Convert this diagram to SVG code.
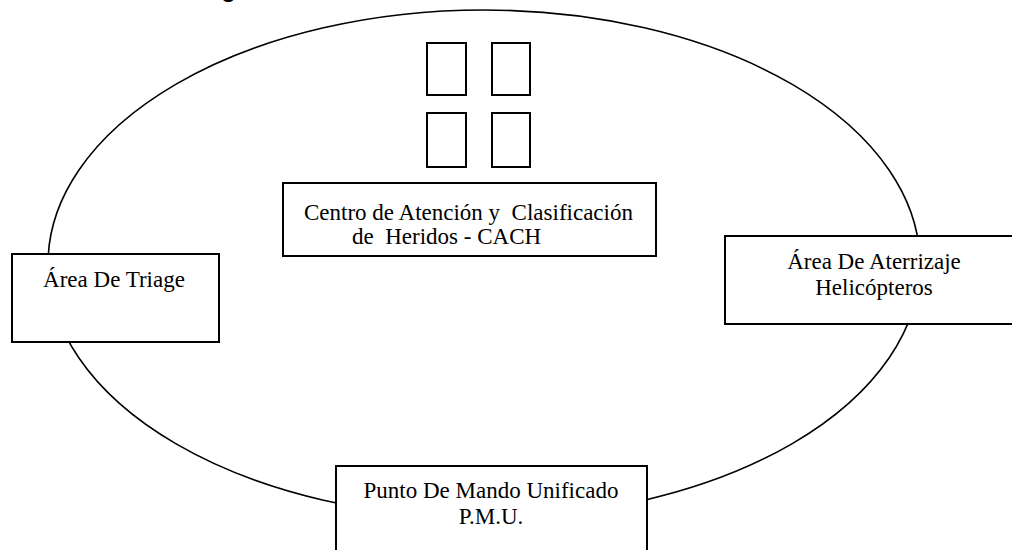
<svg xmlns="http://www.w3.org/2000/svg" width="1012" height="550" viewBox="0 0 1012 550">
  <style>
    .box { fill: #ffffff; stroke: #000000; stroke-width: 2; }
    .win { fill: #ffffff; stroke: #000000; stroke-width: 2; }
    .ring { fill: none; stroke: #000000; stroke-width: 1.6; }
    .lbl { font-family: "Liberation Serif", "Times New Roman", serif; font-size: 23px; fill: #000000; white-space: pre; }
    .mid { text-anchor: middle; }
  </style>
  <rect x="0" y="0" width="1012" height="550" fill="#ffffff"/>
  <text x="221" y="-2" font-family="Liberation Sans, Arial, sans-serif" font-weight="bold" font-size="24">¿</text>
  <g id="connectors">
    <ellipse class="ring" cx="484" cy="264" rx="436" ry="254"/>
  </g>
  <g id="buildings">
    <rect class="win" x="427" y="43" width="39" height="52"/>
    <rect class="win" x="492" y="43" width="38" height="52"/>
    <rect class="win" x="427" y="113" width="39" height="54"/>
    <rect class="win" x="492" y="113" width="38" height="54"/>
  </g>
  <g id="cach">
    <rect class="box" x="283" y="183" width="373" height="73"/>
    <text class="lbl" x="304" y="220" xml:space="preserve">Centro de Atención y  Clasificación</text>
    <text class="lbl" x="352" y="244" xml:space="preserve">de  Heridos - CACH</text>
  </g>
  <g id="triage">
    <rect class="box" x="12" y="254" width="207" height="88"/>
    <text class="lbl mid" x="114" y="287">Área De Triage</text>
  </g>
  <g id="helicopteros">
    <rect class="box" x="725" y="236" width="300" height="88"/>
    <text class="lbl mid" x="874" y="269">Área De Aterrizaje</text>
    <text class="lbl mid" x="874" y="295">Helicópteros</text>
  </g>
  <g id="pmu">
    <rect class="box" x="336" y="466" width="311" height="100"/>
    <text class="lbl mid" x="491" y="498">Punto De Mando Unificado</text>
    <text class="lbl mid" x="491" y="524">P.M.U.</text>
  </g>
</svg>
